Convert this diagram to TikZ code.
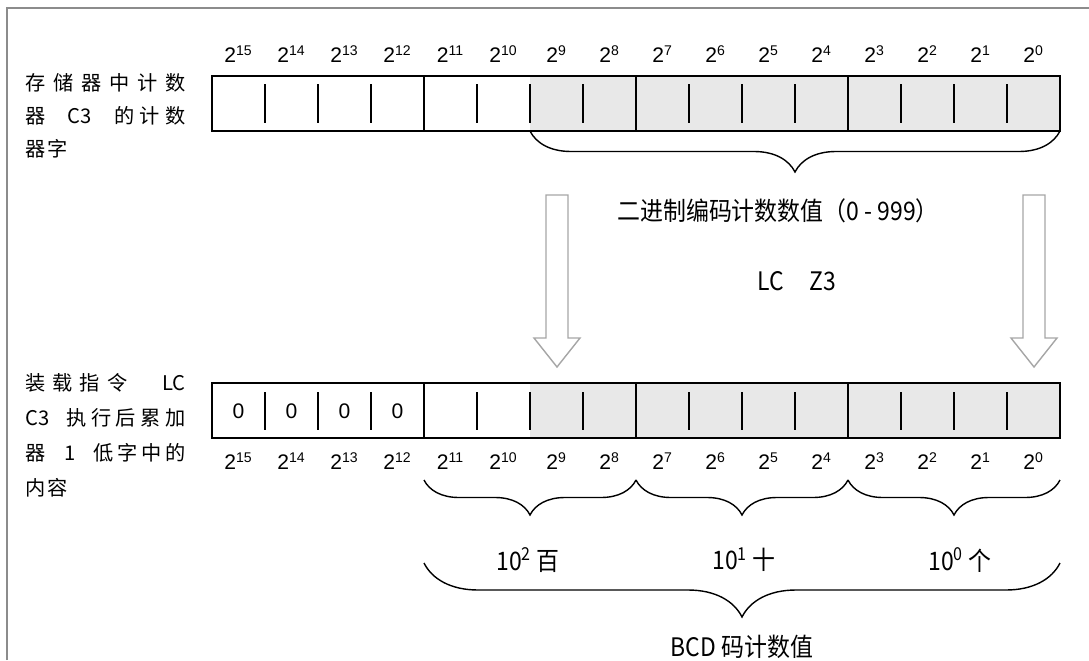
\documentclass[tikz,border=0pt]{standalone}
\usepackage{fontspec}
\setmainfont{Liberation Sans}
\newfontfamily\cjk{Noto Sans CJK SC}
\newfontfamily\cjknarrow[FakeStretch=0.9]{Noto Sans CJK SC}
\usetikzlibrary{decorations.pathreplacing}

\definecolor{cellgray}{HTML}{E8E8E8}
\definecolor{framegray}{HTML}{8C8C8C}
\definecolor{arrowgray}{HTML}{A6A6A6}

\tikzset{
  bitlabel/.style={inner sep=0pt, font=\fontsize{12}{14}\selectfont},
  sidetext/.style={anchor=west, inner sep=0pt, font=\cjk\fontsize{11.5}{13}\selectfont},
  notetext/.style={inner sep=0pt, font=\cjknarrow\fontsize{14.5}{16}\selectfont},
  curly/.style={decorate, decoration={brace, amplitude=#1}, line width=0.8pt},
  regline/.style={line width=1.1pt},
  hollow/.style={draw=arrowgray, fill=white, line width=0.8pt}
}

\begin{document}
\begin{tikzpicture}[x=0.02cm, y=-0.02cm]

  % Fix the page to the size of the reference
  \useasboundingbox (0,0) rectangle (1089,660);

  % Frame lines at the top and on the left
  \draw[framegray, line width=1pt] (7,660) -- (7,8) -- (1089,8);

  % Define the width of one bit cell
  \def\W{53}

  % Corners of the two registers
  \coordinate (TL) at (212,76);
  \coordinate (TR) at (1060,131);
  \coordinate (BL) at (212,383);
  \coordinate (BR) at (1060,438);

  % Shade bits 9 to 0 in both registers
  \fill[cellgray] (530,76) rectangle (TR);
  \fill[cellgray] (530,383) rectangle (BR);

  % Draw the register outlines and the nibble borders
  \draw[regline] (TL) rectangle (TR);
  \draw[regline] (BL) rectangle (BR);
  \foreach \x in {424,636,848} {
    \draw[regline] (\x,76) -- (\x,131);
    \draw[regline] (\x,383) -- (\x,438);
  }

  % Short separators between the bits
  \foreach \i in {1,2,3,5,6,7,9,10,11,13,14,15} {
    \draw[regline] ({212+\i*\W},84) -- ({212+\i*\W},123);
    \draw[regline] ({212+\i*\W},392) -- ({212+\i*\W},430);
  }

  % Bit weights above and below the registers
  \foreach \b in {0,...,15} {
    \node[bitlabel] (t\b) at ({1060-(\b+0.5)*\W},54) {2\textsuperscript{\b}};
    \node[bitlabel] (b\b) at ({1060-(\b+0.5)*\W},461) {2\textsuperscript{\b}};
  }

  % Zeros in the four high bits
  \foreach \b in {12,...,15} {
    \node[bitlabel] (z\b) at ({1060-(\b+0.5)*\W},411) {0};
  }

  % Texts on the left
  \node[sidetext] (topA) at (25,83) {\makebox[3.2cm][s]{存 储 器 中 计 数}};
  \node[sidetext] (topB) at (25,116) {\makebox[3.2cm][s]{器\hfill C3\hfill 的\kern3pt 计\kern3pt 数}};
  \node[sidetext] (topC) at (25,149) {器\kern1pt 字};
  \node[sidetext] (botA) at (25,383) {\makebox[3.2cm][s]{装\kern4pt 载\kern4pt 指\kern4pt 令\hfill LC}};
  \node[sidetext] (botB) at (25,418) {\makebox[3.2cm][s]{C3\hfill 执\kern2.5pt 行\kern2.5pt 后\kern2.5pt 累\kern2.5pt 加}};
  \node[sidetext] (botC) at (25,453) {\makebox[3.2cm][s]{器\hfill 1\hfill 低\kern2pt 字\kern2pt 中\kern2pt 的}};
  \node[sidetext] (botD) at (25,488) {内\kern1pt 容};

  % Brace under the binary count value
  \draw[curly=0.82cm] (1060,131) -- (530,131);
  \node[notetext] (bin) at (778,211) {二进制编码计数数值（0 - 999）};
  \node[notetext] (lc) at (797,281) {LC\quad Z3};

  % Hollow arrows from the top register to the bottom one
  \coordinate (arrL) at (557,195);
  \coordinate (arrR) at (1034,195);
  \draw[hollow] (arrL) ++(-11,0) -- ++(0,143) -- ++(-12,0) -- ++(23,29)
    -- ++(23,-29) -- ++(-12,0) -- ++(0,-143) -- cycle;
  \draw[hollow] (arrR) ++(-11,0) -- ++(0,143) -- ++(-12,0) -- ++(23,29)
    -- ++(23,-29) -- ++(-12,0) -- ++(0,-143) -- cycle;

  % Braces for the three BCD digits
  \draw[curly=0.7cm] (636,480) -- (424,480);
  \draw[curly=0.7cm] (848,480) -- (636,480);
  \draw[curly=0.7cm] (1060,480) -- (848,480);
  \node[notetext] (hund) at (528,560) {10\textsuperscript{2}\ 百};
  \node[notetext] (tens) at (744,560) {10\textsuperscript{1}\ 十};
  \node[notetext] (ones) at (960,560) {10\textsuperscript{0}\ 个};

  % Brace for the whole BCD value
  \draw[curly=1.08cm] (1060,563) -- (424,563);
  \node[notetext] (bcd) at (742,647) {BCD\ 码计数值};

\end{tikzpicture}
\end{document}
